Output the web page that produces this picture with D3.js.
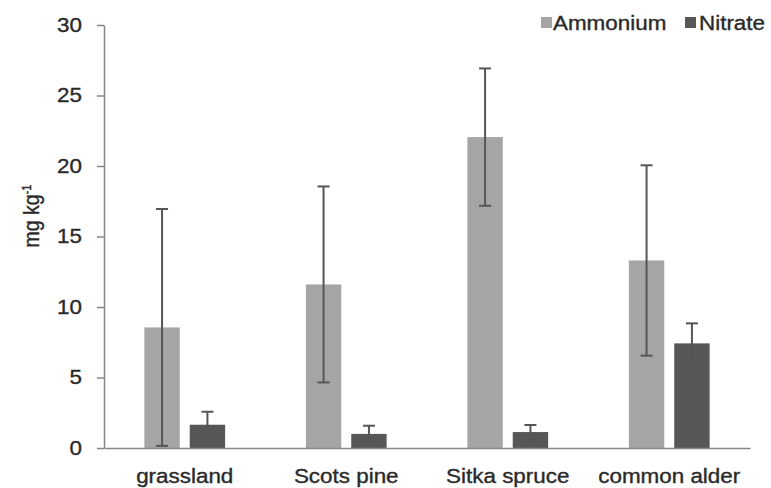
<!DOCTYPE html>
<html>
<head>
<meta charset="utf-8">
<script src="https://cdn.jsdelivr.net/npm/d3@7"></script>
<style>
  html, body { margin: 0; padding: 0; background: #fff; }
  svg { display: block; }
  text { font-family: "Liberation Sans", Arial, sans-serif; stroke: #2a2a2a; stroke-width: 0.35px; }
</style>
</head>
<body>
<svg id="chart" width="771" height="488"></svg>
<script>
const categories = ["grassland", "Scots pine", "Sitka spruce", "common alder"];
const seriesNames = ["Ammonium", "Nitrate"];
const ammonium = [8.55, 11.6, 22.05, 13.3];
const ammoniumErr = [8.4, 6.95, 4.87, 6.75];
const nitrate = [1.65, 1.0, 1.13, 7.42];
const nitrateErr = [0.92, 0.58, 0.5, 1.42];
const yTicks = [0, 5, 10, 15, 20, 25, 30];

const colors = { Ammonium: "#a5a5a5", Nitrate: "#575757" };
const textColor = "#2a2a2a";
const stretch = 1.15;
const fontSize = 19.5;

const svg = d3.select("#chart");
const plotLeft = 104, plotRight = 750, plotTop = 25, plotBottom = 448;

const x0 = d3.scaleBand().domain(categories).range([plotLeft, plotRight]).paddingInner(0.5).paddingOuter(0.25);
const x1 = d3.scaleBand().domain(seriesNames).range([0, x0.bandwidth()]).paddingInner(0.22);
const y = d3.scaleLinear().domain([0, 30]).range([plotBottom, plotTop]);

const rows = categories.map((c, i) => ({
  cat: c,
  vals: [
    { s: "Ammonium", v: ammonium[i], e: ammoniumErr[i] },
    { s: "Nitrate", v: nitrate[i], e: nitrateErr[i] }
  ]
}));

// Bars
const groups = svg.append("g").selectAll("g").data(rows).join("g")
  .attr("transform", d => `translate(${x0(d.cat)},0)`);
groups.selectAll("rect").data(d => d.vals).join("rect")
  .attr("x", d => x1(d.s))
  .attr("y", d => y(d.v))
  .attr("width", x1.bandwidth())
  .attr("height", d => y(0) - y(d.v))
  .attr("fill", d => colors[d.s]);

// Error bars
const capW = 12;
const eb = groups.selectAll("g.err").data(d => d.vals).join("g").attr("class", "err")
  .attr("stroke", "#555").attr("stroke-width", 2).attr("fill", "none");
eb.append("line")
  .attr("x1", d => x1(d.s) + x1.bandwidth() / 2).attr("x2", d => x1(d.s) + x1.bandwidth() / 2)
  .attr("y1", d => y(d.v - d.e)).attr("y2", d => y(d.v + d.e));
eb.append("line")
  .attr("x1", d => x1(d.s) + x1.bandwidth() / 2 - capW / 2).attr("x2", d => x1(d.s) + x1.bandwidth() / 2 + capW / 2)
  .attr("y1", d => y(d.v + d.e)).attr("y2", d => y(d.v + d.e));
eb.append("line")
  .attr("x1", d => x1(d.s) + x1.bandwidth() / 2 - capW / 2).attr("x2", d => x1(d.s) + x1.bandwidth() / 2 + capW / 2)
  .attr("y1", d => y(d.v - d.e)).attr("y2", d => y(d.v - d.e));

// Y axis
const yAxis = svg.append("g").attr("transform", `translate(${plotLeft},0)`)
  .call(d3.axisLeft(y).tickValues(yTicks).tickSize(7).tickPadding(15).tickSizeOuter(0));
yAxis.select(".domain").attr("stroke", "#868686").attr("stroke-width", 1.5);
yAxis.selectAll(".tick line").attr("stroke", "#868686").attr("stroke-width", 1.5);
yAxis.selectAll(".tick text")
  .attr("fill", textColor).style("font-size", fontSize + "px")
  .attr("x", -22 / stretch)
  .attr("transform", `scale(${stretch},1)`);

// X axis
const xAxis = svg.append("g").attr("transform", `translate(0,${plotBottom})`)
  .call(d3.axisBottom(x0).tickSize(0).tickSizeOuter(0).tickPadding(0));
xAxis.select(".domain").attr("stroke", "#868686").attr("stroke-width", 1.5);
xAxis.selectAll(".tick text")
  .attr("fill", textColor).style("font-size", fontSize + "px")
  .attr("y", 35).attr("dy", 0)
  .attr("transform", `scale(${stretch},1)`);

// Y label
const yl = svg.append("text")
  .attr("transform", `translate(39,216) scale(${stretch},1) rotate(-90)`)
  .attr("text-anchor", "middle").attr("fill", textColor).style("font-size", fontSize + "px");
yl.append("tspan").text("mg kg");
yl.append("tspan").attr("dy", -7).style("font-size", "11px").text("-1");

// Legend
const legendItems = [
  { s: "Ammonium", sx: 541, tx: 553 },
  { s: "Nitrate", sx: 685, tx: 699 }
];
const lg = svg.append("g").selectAll("g").data(legendItems).join("g");
lg.append("rect").attr("x", d => d.sx).attr("y", 17).attr("width", 11).attr("height", 11)
  .attr("fill", d => colors[d.s]);
lg.append("text")
  .attr("transform", d => `translate(${d.tx},29.5) scale(${stretch},1)`)
  .attr("fill", textColor).style("font-size", fontSize + "px")
  .text(d => d.s);
</script>
</body>
</html>
